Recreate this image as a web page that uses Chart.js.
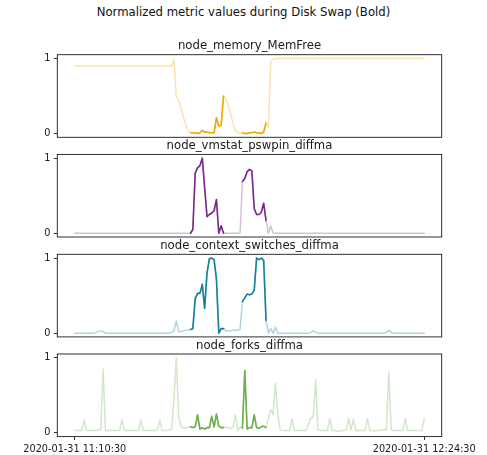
<!DOCTYPE html>
<html>
<head>
<meta charset="utf-8">
<script src="https://cdn.jsdelivr.net/npm/chart.js@4.4.0/dist/chart.umd.min.js"></script>
<style>
  body { margin: 0; background: #fff; }
  #wrap { position: relative; width: 487px; height: 455px; overflow: hidden; }
  #wrap canvas { position: absolute; left: 0; }
  #suptitle {
    position: absolute; left: 0; top: 5px; width: 487px; text-align: center;
    font-family: "DejaVu Sans"; font-size: 11.7px; line-height: 14px; color: #111;
  }
</style>
</head>
<body>
<div id="wrap">
  <div id="suptitle">Normalized metric values during Disk Swap (Bold)</div>
  <canvas id="c0"></canvas>
  <canvas id="c1"></canvas>
  <canvas id="c2"></canvas>
  <canvas id="c3"></canvas>
</div>
<script>
// ================= DATA =================
// one sample every 30 s, 11:10:30 -> 12:24:30 (149 points)
const tickLabels = ["2020-01-31 11:10:30", "2020-01-31 12:24:30"];
const tickIndex = [0, 148];
// sample index ranges drawn bold (disk swap)
const swapRanges = [[49, 63], [71, 81]];

const panelNames = [
  "node_memory_MemFree",
  "node_vmstat_pswpin_diffma",
  "node_context_switches_diffma",
  "node_forks_diffma"
];

const memFree = [
  0.9,0.9,0.9,0.9,0.9,0.9,0.9,0.9,0.9,0.9,
  0.9,0.9,0.9,0.9,0.9,0.9,0.9,0.9,0.9,0.9,
  0.9,0.9,0.9,0.9,0.9,0.9,0.9,0.9,0.9,0.9,
  0.9,0.9,0.9,0.9,0.9,0.9,0.9,0.9,0.9,0.9,
  0.9,0.9,0.98,0.49,0.44,0.33,0.22,0.12,0.03,0.01,
  0.01,0.01,0.0,0.01,0.04,0.02,0.02,0.01,0.01,0.01,
  0.21,0.1,0.11,0.5,0.45,0.37,0.26,0.14,0.04,0.01,
  0.01,0.01,0.0,0.0,0.01,0.01,0.02,0.01,0.01,0.0,
  0.02,0.14,0.08,0.96,0.99,1,1,1,1,1,
  1,1,1,1,1,1,1,1,1,1,
  1,1,1,1,1,1,1,1,1,1,
  1,1,1,1,1,1,1,1,1,1,
  1,1,1,1,1,1,1,1,1,1,
  1,1,1,1,1,1,1,1,1,1,
  1,1,1,1,1,1,1,1,1
];

const pswpin = [
  0,0,0,0,0,0,0,0,0,0,
  0,0,0,0,0,0,0,0,0,0,
  0,0,0,0,0,0,0,0,0,0,
  0,0,0,0,0,0,0,0,0,0,
  0,0,0,0,0,0,0,0,0,0,
  0.05,0.8,0.87,0.9,1.0,0.61,0.22,0.25,0.27,0.3,
  0.45,0.0,0.1,0.0,0,0,0,0,0,0,
  0,0.69,0.73,0.82,0.85,0.83,0.33,0.25,0.25,0.28,
  0.4,0.17,0.0,0.1,0,0,0,0,0,0,
  0,0,0,0,0,0,0,0,0,0,
  0,0,0,0,0,0,0,0,0,0,
  0,0,0,0,0,0,0,0,0,0,
  0,0,0,0,0,0,0,0,0,0,
  0,0,0,0,0,0,0,0,0,0,
  0,0,0,0,0,0,0,0,0
];

const ctxSwitches = [
  0,0,0,0,0,0,0,0,0,0.01,
  0.02,0.03,0.02,0,0,0,0,0,0,0,
  0,0,0,0,0,0,0,0,0,0,
  0,0,0,0,0,0,0,0,0,0,
  0,0.01,0.03,0.16,0.02,0.02,0.03,0.04,0.04,0.05,
  0.06,0.46,0.53,0.53,0.65,0.33,0.8,0.99,1.0,0.98,
  0.72,0.0,0.06,0.06,0.03,0.03,0.03,0.04,0.04,0.04,
  0.05,0.42,0.47,0.52,0.51,0.52,0.57,1.0,0.98,1.0,
  0.97,0.17,0.0,0.06,0.0,0.08,0.0,0,0,0,
  0,0,0,0,0,0,0,0,0,0,
  0.01,0.03,0.01,0,0,0,0,0,0,0,
  0,0,0,0,0,0,0,0,0,0,
  0,0,0,0,0,0,0,0,0,0,
  0,0,0.01,0.04,0.01,0,0,0,0,0,
  0,0,0,0,0,0,0,0,0
];

const forks = [
  0.04,0.03,0.03,0.03,0.17,0.03,0.03,0.03,0.03,0.03,
  0.04,0.04,0.85,0.03,0.03,0.03,0.03,0.03,0.03,0.03,
  0.18,0.03,0.03,0.03,0.03,0.03,0.03,0.03,0.17,0.03,
  0.03,0.03,0.03,0.03,0.03,0.04,0.17,0.03,0.03,0.03,
  0.04,0.04,0.45,1.0,0.22,0.09,0.06,0.07,0.07,0.08,
  0.07,0.08,0.24,0.05,0.07,0.05,0.07,0.07,0.22,0.08,
  0.25,0.09,0.07,0.07,0.07,0.07,0.06,0.07,0.24,0.03,
  0.08,0.06,0.83,0.05,0.07,0.07,0.24,0.07,0.06,0.08,
  0.09,0.07,0.2,0.31,0.24,0.66,0.25,0.04,0.03,0.03,
  0.03,0.03,0.19,0.03,0.03,0.03,0.03,0.03,0.03,0.12,
  0.2,0.21,0.71,0.04,0.03,0.03,0.03,0.03,0.19,0.03,
  0.03,0.02,0.02,0.03,0.03,0.04,0.19,0.04,0.18,0.03,
  0.03,0.03,0.03,0.03,0.19,0.03,0.03,0.02,0.03,0.03,
  0.04,0.04,0.04,0.81,0.04,0.03,0.03,0.03,0.03,0.03,
  0.19,0.03,0.03,0.03,0.03,0.03,0.03,0.03,0.19
];

const seriesList = [memFree, pswpin, ctxSwitches, forks];

// ================= STYLE / LAYOUT =================
const boldColors = ["#f2a900", "#7b2a8c", "#16809b", "#6ab04c"];
const lightColors = [
  "rgba(242,169,0,0.32)",
  "rgba(123,42,140,0.3)",
  "rgba(22,128,155,0.34)",
  "rgba(106,176,76,0.3)"
];

const W = 487, H = 455;
const AXES_LEFT = 57.3, AXES_RIGHT = 441.7, AXES_H = 82.6;
const AXES_TOP = [54.7, 154.4, 254.3, 354.0];
const TITLE_SIZE = 11.7, TITLE_PAD = 1.4;
const TICK_SIZE = 9.7, TICK_LEN = 3.4;
const INK = "#1a1a1a";

Chart.defaults.font.family = "DejaVu Sans";
Chart.defaults.color = INK;

// full frame around each axes, like matplotlib spines
const framePlugin = {
  id: "frame",
  afterDatasetsDraw(chart) {
    const { ctx, chartArea: a } = chart;
    ctx.save();
    ctx.strokeStyle = INK;
    ctx.lineWidth = 0.9;
    ctx.strokeRect(a.left, a.top, a.right - a.left, a.bottom - a.top);
    ctx.restore();
  }
};

function inSwap(i) {
  return swapRanges.some(r => i >= r[0] && i <= r[1]);
}

// ================= BUILD PANELS =================
function makePanel(k) {
  const isLast = k === seriesList.length - 1;
  const canvas = document.getElementById("c" + k);
  const top = AXES_TOP[k];
  const canvasTop = Math.floor(top) - 24;
  const offset = top - canvasTop;
  const canvasH = isLast ? H - canvasTop : Math.ceil(offset + AXES_H + 12);
  canvas.width = W;
  canvas.height = canvasH;
  canvas.style.top = canvasTop + "px";

  const values = seriesList[k];
  const titleH = TITLE_SIZE * 1.2 + TITLE_PAD;
  const xAxisH = isLast ? H - (top + AXES_H) : 0;

  new Chart(canvas, {
    type: "line",
    data: {
      datasets: [
        {
          data: values.map((v, i) => ({ x: i, y: v })),
          borderColor: lightColors[k],
          borderWidth: 1.5
        },
        {
          data: values.map((v, i) => ({ x: i, y: inSwap(i) ? v : null })),
          borderColor: boldColors[k],
          borderWidth: 1.6
        }
      ]
    },
    options: {
      responsive: false,
      animation: false,
      events: [],
      spanGaps: false,
      elements: { point: { radius: 0 }, line: { tension: 0, borderCapStyle: "round", borderJoinStyle: "round" } },
      layout: {
        padding: {
          left: 0,
          right: W - AXES_RIGHT,
          top: offset - titleH,
          bottom: isLast ? 0 : canvasH - offset - AXES_H
        }
      },
      plugins: {
        legend: { display: false },
        tooltip: { enabled: false },
        title: {
          display: true,
          fullSize: false,
          text: panelNames[k],
          color: INK,
          font: { size: TITLE_SIZE, weight: "normal" },
          padding: { top: 0, bottom: TITLE_PAD }
        }
      },
      scales: {
        x: {
          type: "linear",
          display: isLast,
          min: -0.05 * tickIndex[1],
          max: 1.05 * tickIndex[1],
          border: { display: false },
          grid: { drawOnChartArea: false, drawTicks: true, tickLength: TICK_LEN, color: INK, lineWidth: 0.9 },
          afterBuildTicks: scale => { scale.ticks = tickIndex.map(v => ({ value: v })); },
          afterFit: scale => { scale.height = xAxisH; },
          ticks: {
            maxRotation: 0,
            autoSkip: false,
            padding: 3.4,
            color: INK,
            font: { size: TICK_SIZE },
            callback: v => tickLabels[tickIndex.indexOf(v)]
          }
        },
        y: {
          min: -0.05,
          max: 1.05,
          border: { display: false },
          grid: { drawOnChartArea: false, drawTicks: true, tickLength: TICK_LEN, color: INK, lineWidth: 0.9 },
          afterBuildTicks: scale => { scale.ticks = [{ value: 0 }, { value: 1 }]; },
          afterFit: scale => { scale.width = AXES_LEFT; },
          ticks: {
            padding: 3.4,
            color: INK,
            font: { size: TICK_SIZE },
            callback: v => String(v)
          }
        }
      }
    },
    plugins: [framePlugin]
  });
}

seriesList.forEach((s, k) => makePanel(k));
</script>
</body>
</html>
